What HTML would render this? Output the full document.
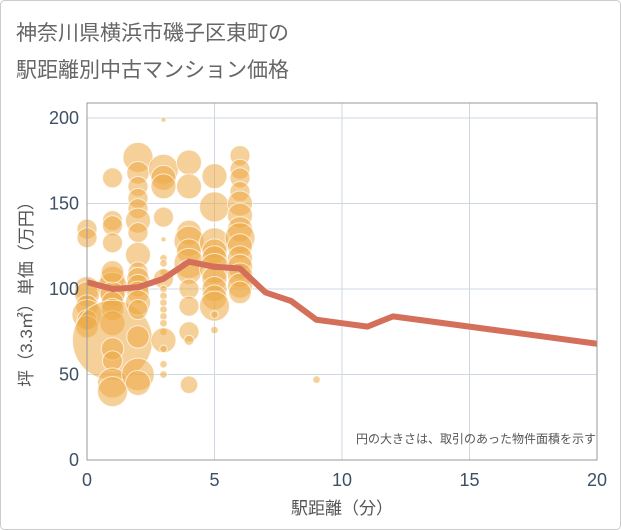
<!DOCTYPE html>
<html><head><meta charset="utf-8"><style>
html,body{margin:0;padding:0;background:#fff}
svg{display:block}
text{font-family:"Liberation Sans","Noto Sans CJK JP",sans-serif}
</style></head><body>
<svg width="621" height="530" viewBox="0 0 621 530">
<rect x="0.5" y="0.5" width="620" height="529" rx="4" fill="#fff" stroke="#ccc"/>
<text x="16" y="40" font-size="21" fill="#666">神奈川県横浜市磯子区東町の</text>
<text x="16" y="77" font-size="21" fill="#666">駅距離別中古マンション価格</text>
<g id="grid"></g>
<g id="bubbles"></g>
<path id="avg" fill="none" stroke="#d4705a" stroke-width="6" stroke-linejoin="round"/>
<rect x="87" y="103" width="510" height="357" fill="none" stroke="#999" stroke-width="1"/>
<g id="axes"></g>
<text x="596" y="443" font-size="12" fill="#555" text-anchor="end">円の大きさは、取引のあった物件面積を示す</text>
<text x="342" y="514" font-size="17" fill="#555" text-anchor="middle">駅距離（分）</text>
<text transform="translate(32,290) rotate(-90)" font-size="17" fill="#555" text-anchor="middle">坪（3.3㎡）単価（万円）</text>
</svg>
<script>
const xTicks=[0,5,10,15,20];
const yTicks=[0,50,100,150,200];
const lineX=[0,1,2,3,4,5,6,7,8,9,10,11,12,20];
const lineY=[104,100,101,106,116,113,112,98,93,82,80,78,84,68];
const bubX=[0,0,0,0,0,0,0,0,1,1,1,1,1,1,1,1,1,1,1,1,1,1,1,1,2,2,2,2,2,2,2,2,2,2,2,2,2,2,2,2,2,3,3,3,3,3,3,3,3,3,3,3,3,3,3,3,3,3,3,3,3,3,4,4,4,4,4,4,4,4,4,4,4,4,5,5,5,5,5,5,5,5,5,5,5,5,6,6,6,6,6,6,6,6,6,6,6,6,6,6,9];
const bubY=[135,130,100,97,90,85,82,78,165,140,137,127,106,101,97,92,88,80,70,65,58,45,40,110,177,168,160,153,147,140,133,120,110,106,102,98,92,88,72,50,45,199,170,165,160,142,129,118,115,110,106,100,96,92,88,84,80,75,70,65,56,50,174,160,133,128,122,115,110,100,90,75,70,44,166,148,127,122,118,112,106,100,95,90,85,76,178,170,165,157,150,143,135,130,125,118,113,108,102,98,47];
const bubR=[8,8,10,10,9,12,8,9,8,8,8,8,10,12,10,9,9,10,40,9,8,12,12,9,12,9,8,8,8,10,8,10,8,9,9,9,10,8,9,13,10,2,12,10,10,8,2,3,3,3,8,3,3,3,3,3,3,3,10,3,3,3,10,10,10,12,10,12,10,8,8,8,4,7,10,12,12,10,10,12,10,10,10,12,3,3,8,8,8,8,10,10,10,12,10,10,10,10,10,9,3];
const X=v=>87+v*25.5, Y=v=>460-v*1.71;
const ns="http://www.w3.org/2000/svg";
const grid=document.getElementById('grid'), axes=document.getElementById('axes');
xTicks.forEach(t=>{
 const l=document.createElementNS(ns,'line');
 
 
 l.setAttribute('x1',X(t));l.setAttribute('x2',X(t));l.setAttribute('y1',103);l.setAttribute('y2',460);
 l.setAttribute('stroke','#cdd8e4');grid.appendChild(l);
 const tx=document.createElementNS(ns,'text');
 
 
 tx.setAttribute('x',X(t));tx.setAttribute('y',486);tx.setAttribute('font-size','18');
 tx.setAttribute('fill','#3d5166');tx.setAttribute('text-anchor','middle');tx.textContent=t;axes.appendChild(tx);
});
yTicks.forEach(t=>{
 const l=document.createElementNS(ns,'line');
 
 
 l.setAttribute('x1',87);l.setAttribute('x2',597);l.setAttribute('y1',Y(t));l.setAttribute('y2',Y(t));
 l.setAttribute('stroke','#cdd8e4');grid.appendChild(l);
 const tx=document.createElementNS(ns,'text');
 
 
 tx.setAttribute('x',79);tx.setAttribute('y',Y(t)+6);tx.setAttribute('font-size','18');
 tx.setAttribute('fill','#3d5166');tx.setAttribute('text-anchor','end');tx.textContent=t;axes.appendChild(tx);
});
const bg=document.getElementById('bubbles');
bubX.forEach((x,i)=>{
 const c=document.createElementNS(ns,'circle');
 
 
 const r=bubR[i]>30?bubR[i]:bubR[i]*1.25;
 c.setAttribute('cx',X(x));c.setAttribute('cy',Y(bubY[i]));c.setAttribute('r',r);
 c.setAttribute('fill','rgba(237,170,70,0.55)');c.setAttribute('stroke','rgba(255,255,255,0.7)');c.setAttribute('stroke-width','1');
 bg.appendChild(c);
});
document.getElementById('avg').setAttribute('d',lineX.map((x,i)=>(i?'L':'M')+X(x)+' '+Y(lineY[i])).join(' '));
</script>
</body></html>
